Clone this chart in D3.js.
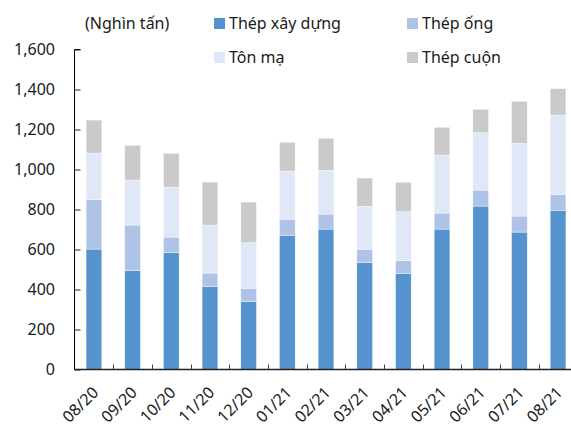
<!DOCTYPE html>
<html>
<head>
<meta charset="utf-8">
<script src="https://cdn.jsdelivr.net/npm/d3@7"></script>
<style>
  body { margin: 0; background: #fff; }
  svg text { font-family: "Noto Sans", "DejaVu Sans", sans-serif; fill: #1a1a1a; }
</style>
</head>
<body>
<script>
// san luong tieu thu thep theo thang
var months = ["08/20","09/20","10/20","11/20","12/20","01/21","02/21","03/21","04/21","05/21","06/21","07/21","08/21"];
var thepXayDung = [602, 494, 584, 414, 339, 669, 702, 534, 479, 702, 817, 687, 796];
var thepOng     = [247, 228,  78,  68,  67,  82,  75,  67,  65,  80,  80,  80,  78];
var tonMa       = [233, 225, 250, 240, 228, 241, 219, 215, 245, 290, 287, 364, 398];
var thepCuon    = [165, 174, 169, 215, 203, 144, 160, 141, 147, 139, 117, 210, 132];
var seriesNames = ["Thép xây dựng", "Thép ống", "Tôn mạ", "Thép cuộn"];
var yTicks = [0, 200, 400, 600, 800, 1000, 1200, 1400, 1600];

var w = 571, h = 430;
var colors = ["#5593CF", "#AEC3E5", "#E0E8F7", "#CACACA"];

var rows = months.map(function(m, i) {
	return {m: m, s0: thepXayDung[i], s1: thepOng[i], s2: tonMa[i], s3: thepCuon[i]};
});
var stack = d3.stack().keys(["s0","s1","s2","s3"])(rows);

var svg = d3.select("body").append("svg")
		.attr("width", w)
		.attr("height", h);

var x = d3.scaleBand().domain(months).range([74.5, 577.5]).paddingInner(0.595).paddingOuter(0.3);
var y = d3.scaleLinear().domain([0, 1600]).range([369.5, 49.5]);

// bars
svg.selectAll("g.series")
	.data(stack)
	.enter().append("g")
	.attr("fill", function(d, i) { return colors[i]; })
	.selectAll("rect")
	.data(function(d) { return d; })
	.enter().append("rect")
	.attr("x", function(d) { return x(d.data.m); })
	.attr("width", x.bandwidth())
	.attr("y", function(d) { return y(d[1]); })
	.attr("height", function(d) { return y(d[0]) - y(d[1]); })
	.attr("stroke", "rgba(255,255,255,0.6)")
	.attr("stroke-width", 0.6);

// y axis, ticks inside
var yAxis = svg.append("g")
	.attr("transform", "translate(74.5,0)")
	.call(d3.axisRight(y).tickValues(yTicks).tickSize(6).tickFormat(""));
yAxis.select(".domain").attr("d", "M6," + y(1600) + "H0V" + y(0));
yAxis.selectAll("line").attr("stroke", "#222");

svg.selectAll("text.ylab")
	.data(yTicks)
	.enter().append("text")
	.attr("class", "ylab")
	.attr("x", 55)
	.attr("y", function(d) { return y(d); })
	.attr("dy", "0.35em")
	.attr("text-anchor", "end")
	.attr("font-size", 16)
	.text(d3.format(","));

// x axis, ticks between bars pointing up
var xTickPos = months.slice(1).map(function(m) { return x(m) - x.step() * x.paddingInner() / 2; });
svg.append("line")
	.attr("x1", 74.5).attr("x2", w)
	.attr("y1", y(0)).attr("y2", y(0))
	.attr("stroke", "#222").attr("stroke-width", 1.5);
svg.selectAll("line.xt")
	.data(xTickPos)
	.enter().append("line")
	.attr("class", "xt")
	.attr("x1", function(d) { return Math.round(d) + 0.5; })
	.attr("x2", function(d) { return Math.round(d) + 0.5; })
	.attr("y1", y(0)).attr("y2", y(0) - 5)
	.attr("stroke", "#444");

svg.selectAll("text.xlab")
	.data(months)
	.enter().append("text")
	.attr("class", "xlab")
	.attr("font-size", 16)
	.attr("text-anchor", "end")
	.attr("transform", function(d) {
		return "translate(" + (x(d) + x.bandwidth() / 2 - 3) + ",385) rotate(-45)";
	})
	.attr("dy", "0.75em")
	.text(function(d) { return d; });

// unit label
svg.append("text")
	.attr("x", 85).attr("y", 29)
	.attr("font-size", 16)
	.text("(Nghìn tấn)");

// legend
var legPos = [[214, 18], [407, 18], [214, 52], [407, 52]];
var leg = svg.selectAll("g.leg")
	.data(seriesNames)
	.enter().append("g")
	.attr("class", "leg")
	.attr("transform", function(d, i) { return "translate(" + legPos[i][0] + "," + legPos[i][1] + ")"; });
leg.append("rect")
	.attr("width", 11).attr("height", 11)
	.attr("fill", function(d, i) { return colors[i]; });
leg.append("text")
	.attr("x", 15).attr("y", 11)
	.attr("font-size", 16)
	.text(function(d) { return d; });
</script>
</body>
</html>
